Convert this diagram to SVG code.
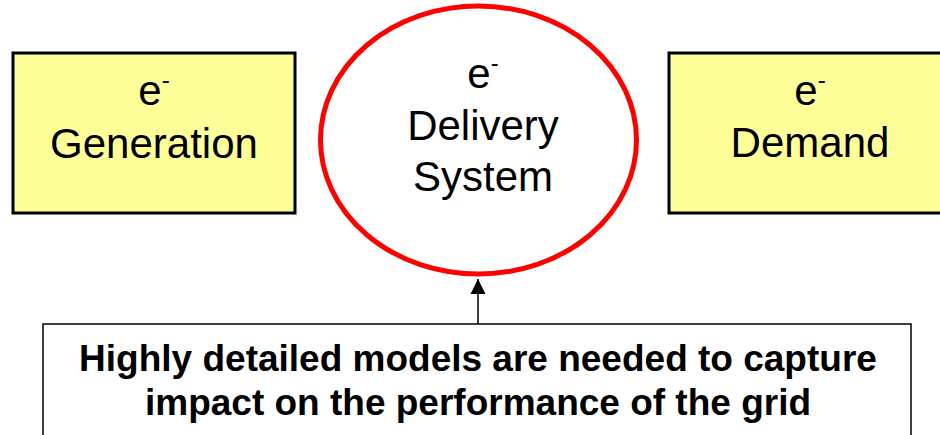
<svg xmlns="http://www.w3.org/2000/svg" width="940" height="435" viewBox="0 0 940 435">
<style>
.box{fill:#ffff99;stroke:#000;stroke-width:3}
.lbl{font-family:"Liberation Sans",Arial,sans-serif;font-size:42px;fill:#000;text-anchor:middle}
.sup{font-size:24px}
.note{font-family:"Liberation Sans",Arial,sans-serif;font-size:37px;font-weight:bold;fill:#000;text-anchor:middle}
</style>
<defs>
<marker id="ah" markerUnits="userSpaceOnUse" markerWidth="16" markerHeight="16" refX="15" refY="8" orient="auto">
<path d="M0,0.5 L15,8 L0,15.5 Z" fill="#000"/>
</marker>
</defs>
<g id="generation">
<rect class="box" x="13" y="53" width="282" height="160"/>
<text class="lbl" x="154" y="105">e<tspan class="sup" dy="-17">-</tspan></text>
<text class="lbl" x="154" y="158">Generation</text>
</g>
<g id="delivery">
<ellipse cx="478.5" cy="140" rx="158" ry="134" fill="#fff" stroke="#ff0000" stroke-width="5"/>
<text class="lbl" x="483" y="88">e<tspan class="sup" dy="-17">-</tspan></text>
<text class="lbl" x="483" y="140">Delivery</text>
<text class="lbl" x="483" y="191">System</text>
</g>
<g id="demand">
<rect class="box" x="669" y="53" width="282" height="160"/>
<text class="lbl" x="810" y="105">e<tspan class="sup" dy="-17">-</tspan></text>
<text class="lbl" x="810" y="157">Demand</text>
</g>
<g id="note">
<rect x="43" y="324" width="868" height="130" fill="#fff" stroke="#000" stroke-width="1.5"/>
<text class="note" x="478" y="371">Highly detailed models are needed to capture</text>
<text class="note" x="478" y="415">impact on the performance of the grid</text>
</g>
<g id="connectors">
<line x1="478" y1="324" x2="478" y2="279" stroke="#000" stroke-width="1.5" marker-end="url(#ah)"/>
</g>
</svg>
